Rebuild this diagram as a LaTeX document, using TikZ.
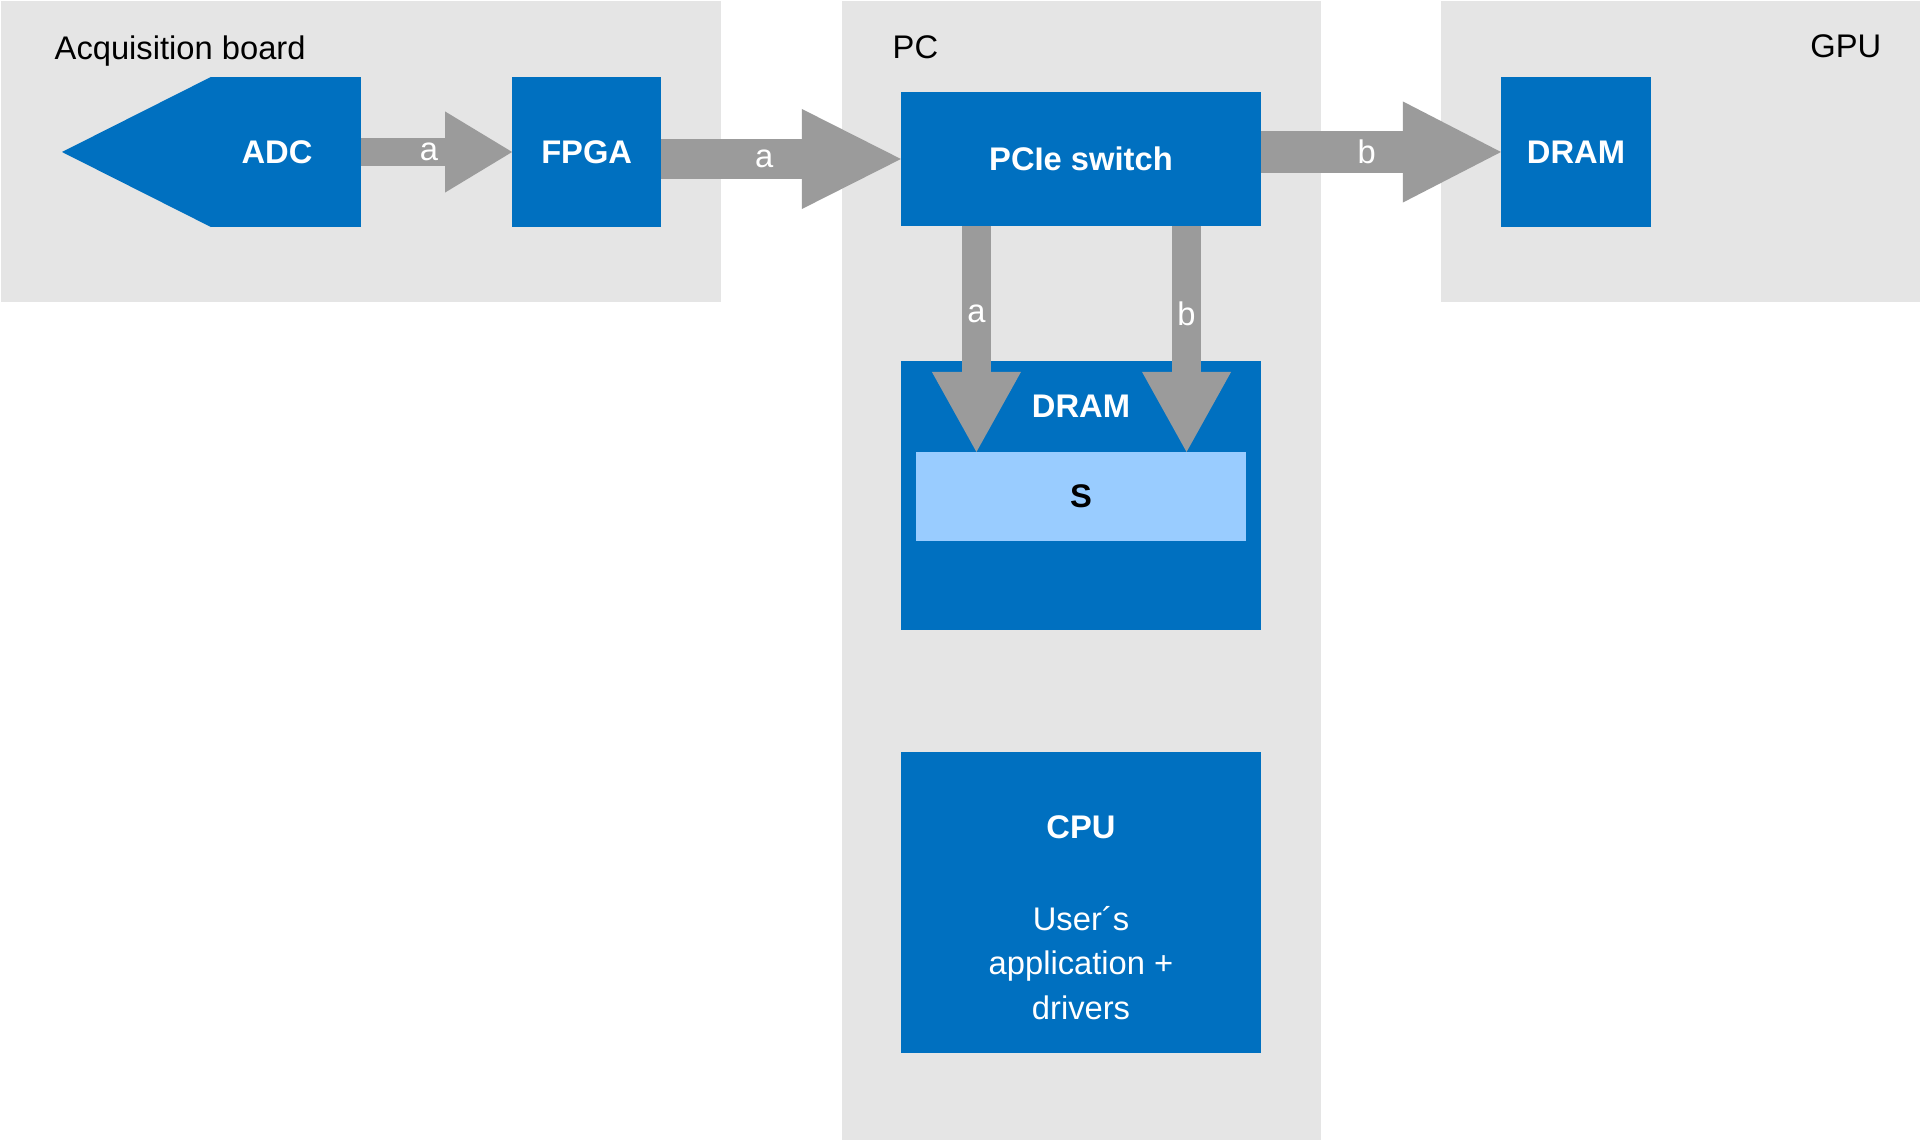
\documentclass[tikz,border=0pt]{standalone}
\usepackage{fontspec}
\setmainfont{Liberation Sans}
\usepackage{xcolor}
\usetikzlibrary{positioning,arrows.meta}

\definecolor{boxblue}{HTML}{0070C0}
\definecolor{arrowgray}{HTML}{9B9B9B}
\definecolor{panelgray}{HTML}{E5E5E5}
\definecolor{slotblue}{HTML}{99CCFF}
\newcommand{\diagfont}{\fontsize{9.3}{12.3}\selectfont}

\begin{document}
\begin{tikzpicture}[
  x=0.01cm, y=-0.01cm,
  panel/.style={fill=panelgray, anchor=north west, inner sep=0pt, outer sep=0pt},
  paneltitle/.style={inner sep=0pt, text=black, font=\diagfont},
  box/.style={fill=boxblue, text=white, inner sep=0pt, outer sep=0pt, align=center, font=\diagfont\bfseries},
  slot/.style={fill=slotblue, inner sep=0pt, outer sep=0pt, font=\diagfont\bfseries},
  fat/.style n args={3}{draw=arrowgray, line width=#1, -{Triangle[length=#2, width=#3, line width=0pt]}},
  lbl/.style={text=white, inner sep=0pt, font=\diagfont}
]
\fill[white] (0,0) rectangle (1920,1140);
\useasboundingbox (0,0) rectangle (1920,1140);

% panels
\node[panel, minimum width=7.2cm, minimum height=3.01cm] (acq) at (1,1) {};
\node[panel, minimum width=4.79cm, minimum height=11.39cm] (pc) at (842,1) {};
\node[panel, minimum width=4.79cm, minimum height=3.01cm] (gpu) at (1441,1) {};
\node[paneltitle, anchor=base west] (acqtitle) at (54,60) {Acquisition board};
\node[paneltitle, anchor=base west] (pctitle) at (892,59) {PC};
\node[paneltitle, anchor=base east] (gputitle) at (1882,58) {GPU};

% acquisition board
\node[box, minimum width=1.5cm, minimum height=1.5cm] (adc) at (286,152) {ADC\kern0.18cm};
\coordinate (adctip) at (62,152);
\fill[boxblue] (adc.north west) -- (adctip) -- (adc.south west) -- cycle;
\node[box, minimum width=1.49cm, minimum height=1.5cm, right=1.51cm of adc] (fpga) {FPGA};

% PC
\node[box, minimum width=3.6cm, minimum height=1.34cm] (pcie) at (1081,159) {PCIe switch};
\node[box, minimum width=3.6cm, minimum height=2.69cm, below=1.35cm of pcie] (dram) {};
\node[slot, minimum width=3.3cm, minimum height=0.89cm] (s) at (1081,496.5) {S};
\node[box] (dramtext) at ([yshift=-0.45cm]dram.north) {DRAM};
\node[box, minimum width=3.6cm, minimum height=3cm, below=1.22cm of dram] (cpu) {};
\node[box, font=\fontsize{9.3}{12.6}\selectfont, anchor=north] (cputext) at ([yshift=-0.635cm]cpu.north)
  {\textbf{CPU}\\[13.5pt]User´s\\application +\\drivers};

% GPU
\node[box, minimum width=1.5cm, minimum height=1.5cm] (gdram) at (1576,152) {DRAM};

% transfers
\draw[fat={0.28cm}{0.67cm}{0.81cm}] (adc.east) -- (fpga.west) node[lbl, pos=0.45] {a};
\draw[fat={0.39cm}{0.99cm}{1cm}] (fpga.east |- pcie.west) -- (pcie.west) node[lbl, pos=0.43] {a};
\draw[fat={0.41cm}{0.98cm}{1.01cm}] (pcie.east |- gdram.west) -- (gdram.west) node[lbl, pos=0.44] {b};
\draw[fat={0.29cm}{0.8cm}{0.89cm}] ([xshift=-1.045cm]pcie.south) -- ([xshift=-1.045cm]s.north) node[lbl, pos=0.39] {a};
\draw[fat={0.29cm}{0.8cm}{0.89cm}] ([xshift=1.055cm]pcie.south) -- ([xshift=1.055cm]s.north) node[lbl, pos=0.39] {b};
\end{tikzpicture}
\end{document}
